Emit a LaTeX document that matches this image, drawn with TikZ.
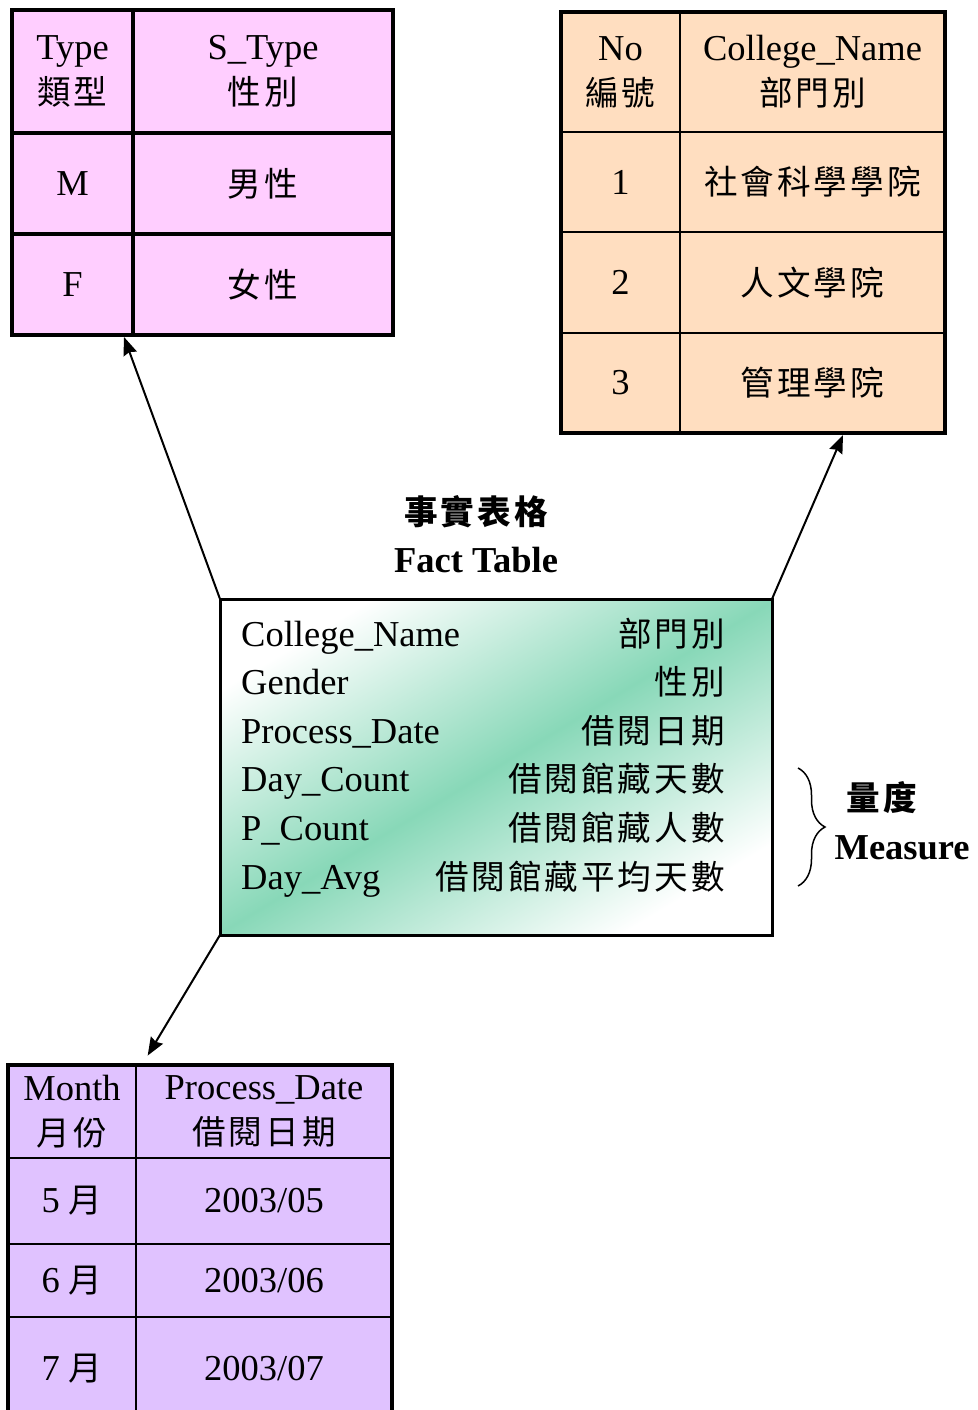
\documentclass[tikz,border=0pt]{standalone}
\usepackage{fontspec}
\setmainfont{Liberation Serif}
\newfontfamily\cjk[Scale=0.92,LetterSpace=9]{Noto Sans CJK TC}
\newcommand{\zh}[1]{{\cjk #1}}
\newcommand{\bigfont}{\fontsize{36.5}{45}\selectfont}
\usetikzlibrary{positioning, arrows.meta, shadings, decorations.pathreplacing}
\definecolor{pinkfill}{RGB}{255,206,255}
\definecolor{peachfill}{RGB}{255,222,192}
\definecolor{datefill}{RGB}{224,194,255}
\definecolor{factgreen}{RGB}{136,216,184}
\tikzset{
    >={Stealth[length=18pt, width=14pt, inset=2pt]}, % filled arrow heads
    cell/.style={draw, outer sep=0pt, inner sep=0pt, align=center}, % one table cell
    pinkcell/.style={cell, fill=pinkfill, line width=4pt},
    peachcell/.style={cell, fill=peachfill, line width=1.8pt},
    datecell/.style={cell, fill=datefill, line width=2.5pt},
    frame/.style={draw, line width=4.5pt}, % thick outline round a table
    link/.style={->, line width=2pt},
}

\begin{document}
\begin{tikzpicture}[x=1pt, y=-1pt, font=\bigfont]
    \useasboundingbox (0,0) rectangle (977,1410);
    % gender table
    \node[pinkcell, minimum width=121pt, minimum height=123pt] (type) at (72.5,71.5) {Type\\\zh{類型}};
    \node[pinkcell, minimum width=260pt, minimum height=123pt, right=0pt of type] (stype) {S\_Type\\\zh{性別}};
    \node[pinkcell, minimum width=121pt, minimum height=101pt, below=0pt of type] (m) {M};
    \node[pinkcell, minimum width=260pt, minimum height=101pt, right=0pt of m] (male) {\zh{男性}};
    \node[pinkcell, minimum width=121pt, minimum height=101pt, below=0pt of m] (f) {F};
    \node[pinkcell, minimum width=260pt, minimum height=101pt, right=0pt of f] (female) {\zh{女性}};
    % college table
    \node[peachcell, minimum width=119pt, minimum height=120pt] (no) at (620.5,72) {No\\\zh{編號}};
    \node[peachcell, minimum width=265pt, minimum height=120pt, right=0pt of no] (cname) {College\_Name\\\zh{部門別}};
    \node[peachcell, minimum width=119pt, minimum height=100pt, below=0pt of no] (n1) {1};
    \node[peachcell, minimum width=265pt, minimum height=100pt, right=0pt of n1] (c1) {\zh{社會科學學院}};
    \node[peachcell, minimum width=119pt, minimum height=101pt, below=0pt of n1] (n2) {2};
    \node[peachcell, minimum width=265pt, minimum height=101pt, right=0pt of n2] (c2) {\zh{人文學院}};
    \node[peachcell, minimum width=119pt, minimum height=100pt, below=0pt of n2] (n3) {3};
    \node[peachcell, minimum width=265pt, minimum height=100pt, right=0pt of n3] (c3) {\zh{管理學院}};
    \draw[frame] (no.north west) rectangle (c3.south east);
    % date table
    \node[datecell, minimum width=128pt, minimum height=93pt] (month) at (72,1111.5) {Month\\\zh{月份}};
    \node[datecell, minimum width=256pt, minimum height=93pt, right=0pt of month] (pd) {Process\_Date\\\zh{借閱日期}};
    \node[datecell, minimum width=128pt, minimum height=86pt, below=0pt of month] (m5) {5 \zh{月}};
    \node[datecell, minimum width=256pt, minimum height=86pt, right=0pt of m5] (d5) {2003/05};
    \node[datecell, minimum width=128pt, minimum height=73pt, below=0pt of m5] (m6) {6 \zh{月}};
    \node[datecell, minimum width=256pt, minimum height=73pt, right=0pt of m6] (d6) {2003/06};
    \node[datecell, minimum width=128pt, minimum height=103pt, below=0pt of m6] (m7) {7 \zh{月}};
    \node[datecell, minimum width=256pt, minimum height=103pt, right=0pt of m7] (d7) {2003/07};
    \draw[frame] (month.north west) rectangle (d7.south east);
    % fact table
    \node[draw, line width=3pt, outer sep=0pt, minimum width=552pt, minimum height=336pt,
          top color=white, bottom color=white, middle color=factgreen, shading angle=31] (fact) at (496,767) {};
    \foreach \en/\zhtext [count=\i from 0] in {College\_Name/部門別, Gender/性別, Process\_Date/借閱日期,
            Day\_Count/借閱館藏天數, P\_Count/借閱館藏人數, Day\_Avg/借閱館藏平均天數} {
        \node[anchor=base west, inner sep=0pt] (fl\i) at (241,646+48.6*\i) {\en};
        \node[anchor=base east, inner sep=0pt] (fr\i) at (725,646+48.6*\i) {\zh{\zhtext}};
    }
    \node[align=center, font=\bfseries\fontsize{36.5}{48}\selectfont] (title) at (476,534) {\zh{事實表格}\\Fact Table};
    % measure brace
    \coordinate (btop) at (798,768);
    \coordinate (bbot) at (798,886);
    \draw[decorate, decoration={brace, amplitude=27pt}, line width=1.5pt] (btop) -- (bbot);
    \node[anchor=west, font=\bfseries\bigfont] (liangdu) at (843,798) {\zh{量度}};
    \node[anchor=west, font=\bfseries\bigfont] (measure) at (831,848) {Measure};
    % links
    \draw[link] (fact.north west) -- ([xshift=-9pt,yshift=-2pt]f.south east);
    \draw[link] (fact.north east) -- ([xshift=-102pt,yshift=-2pt]c3.south east);
    \draw[link, shorten >=11pt] (fact.south west) -- ([xshift=6pt]pd.north west);
\end{tikzpicture}
\end{document}
